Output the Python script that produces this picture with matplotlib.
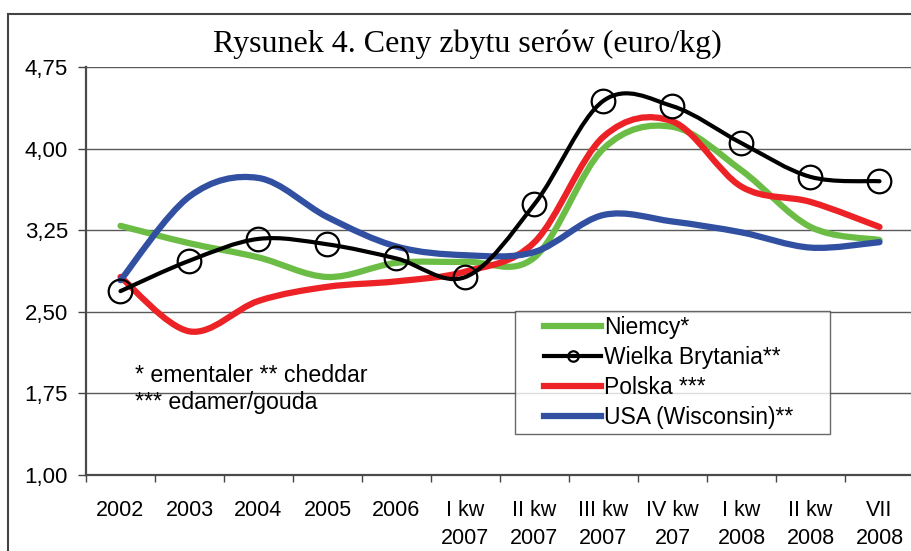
import matplotlib.pyplot as plt
from matplotlib.path import Path
from matplotlib.patches import PathPatch, Rectangle
from matplotlib.lines import Line2D
from matplotlib.legend_handler import HandlerLine2D
from matplotlib.ticker import FixedLocator, NullFormatter

categories = ["2002", "2003", "2004", "2005", "2006", "I kw\n2007", "II kw\n2007",
              "III kw\n2007", "IV kw\n207", "I kw\n2008", "II kw\n2008", "VII\n2008"]

niemcy = [3.29, 3.13, 3.00, 2.82, 2.95, 2.96, 3.00, 4.00, 4.20, 3.80, 3.28, 3.16]
wielka_brytania = [2.69, 2.97, 3.17, 3.12, 2.99, 2.82, 3.49, 4.44, 4.39, 4.05, 3.74, 3.70]
polska = [2.82, 2.32, 2.60, 2.73, 2.78, 2.87, 3.14, 4.11, 4.25, 3.65, 3.51, 3.28]
usa = [2.79, 3.56, 3.73, 3.37, 3.10, 3.02, 3.05, 3.39, 3.33, 3.23, 3.09, 3.14]

yticks = [1.00, 1.75, 2.50, 3.25, 4.00, 4.75]

plt.rcParams['font.family'] = ['Liberation Sans', 'DejaVu Sans']


def smooth_path(xs, ys):
    # Excel-style smoothed line: Catmull-Rom segments as cubic Bezier curves
    pts = list(zip(xs, ys))
    n = len(pts)
    verts = [pts[0]]
    codes = [Path.MOVETO]
    for i in range(n - 1):
        p0 = pts[i - 1] if i > 0 else pts[i]
        p1 = pts[i]
        p2 = pts[i + 1]
        p3 = pts[i + 2] if i + 2 < n else pts[i + 1]
        c1 = (p1[0] + (p2[0] - p0[0]) / 6, p1[1] + (p2[1] - p0[1]) / 6)
        c2 = (p2[0] - (p3[0] - p1[0]) / 6, p2[1] - (p3[1] - p1[1]) / 6)
        verts += [c1, c2, p2]
        codes += [Path.CURVE4] * 3
    return Path(verts, codes)


class OffsetLineHandler(HandlerLine2D):
    # legend line that leaves an empty gap on its left side
    def __init__(self, gap, **kw):
        super().__init__(**kw)
        self.gap = gap

    def get_xdata(self, legend, xdescent, ydescent, width, height, fontsize):
        off = self.gap * fontsize
        start = -xdescent + off
        end = -xdescent + width
        return [start, end], [0.5 * (start + end)]


fig = plt.figure(figsize=(9.12, 5.51), dpi=100)
ax = fig.add_axes([86 / 912, 1 - 475 / 551, 828 / 912, 408 / 551])

x = list(range(len(categories)))
series = [
    (niemcy, "#6cbd45", 4.5, 2),
    (polska, "#ec2227", 4.5, 3),
    (usa, "#3150a2", 4.5, 4),
    (wielka_brytania, "black", 3.0, 5),
]
for vals, color, lw, z in series:
    patch = PathPatch(smooth_path(x, vals), facecolor="none", edgecolor=color,
                      lw=lw, capstyle="round", joinstyle="round", zorder=z)
    ax.add_patch(patch)

ax.plot(x, wielka_brytania, linestyle="none", marker="o", markersize=17,
        markerfacecolor="none", markeredgecolor="black", markeredgewidth=1.6, zorder=6)

ax.set_xlim(-0.5, len(categories) - 0.5)
ax.set_ylim(1.0, 4.75)
ax.set_yticks(yticks)
ax.set_yticklabels([f"{v:.2f}".replace(".", ",") for v in yticks], fontsize=16)
ax.yaxis.grid(True, color="#5a5a5a", linewidth=1.0)
ax.set_axisbelow(True)

ax.xaxis.set_major_locator(FixedLocator([i - 0.5 for i in range(len(categories) + 1)]))
ax.xaxis.set_major_formatter(NullFormatter())
ax.xaxis.set_minor_locator(FixedLocator(x))
ax.set_xticklabels(categories, minor=True, fontsize=15.5, linespacing=1.42)
ax.tick_params(axis="x", which="major", direction="out", length=5, width=1, color="#444444")
ax.tick_params(axis="x", which="minor", length=0, pad=18)
ax.tick_params(axis="y", direction="out", length=6, width=1, color="#444444", pad=7)

for side in ["top", "right"]:
    ax.spines[side].set_visible(False)
for side in ["left", "bottom"]:
    ax.spines[side].set_color("#4a4a4a")
    ax.spines[side].set_linewidth(1.6)

handles = [
    Line2D([], [], color="#6cbd45", lw=4.5),
    Line2D([], [], color="black", lw=3.0, marker="o", markersize=7.5,
           markerfacecolor="none", markeredgewidth=1.6),
    Line2D([], [], color="#ec2227", lw=4.5),
    Line2D([], [], color="#3150a2", lw=4.5),
]
labels = ["Niemcy*", "Wielka Brytania**", "Polska ***", "USA (Wisconsin)**     "]
leg = ax.legend(handles, labels, loc="upper left",
                bbox_to_anchor=(515 / 912, 1 - 311 / 551), bbox_transform=fig.transFigure,
                fontsize=16.5, frameon=True, fancybox=False, handlelength=3.55,
                handletextpad=0.12, labelspacing=0.3, borderpad=0.22, borderaxespad=0,
                numpoints=1, handler_map={Line2D: OffsetLineHandler(gap=1.05)})
leg.get_frame().set_edgecolor("#444444")
leg.get_frame().set_linewidth(1.0)
leg.set_zorder(10)

fig.text(135 / 912, 1 - 375 / 551, "* ementaler ** cheddar", fontsize=16.7, va="center")
fig.text(135 / 912, 1 - 403 / 551, "*** edamer/gouda", fontsize=16.7, va="center")

fig.text(467 / 912, 1 - 44 / 551, "Rysunek 4. Ceny zbytu serów (euro/kg)",
         fontsize=23, ha="center", va="center", family=["Liberation Serif", "DejaVu Serif"])

fig.add_artist(Rectangle((8 / 912, -0.05), 1.2, 1.05 - 14 / 551, transform=fig.transFigure,
                         fill=False, edgecolor="#444444", linewidth=1.5))

fig.savefig("out.png", dpi=100)
